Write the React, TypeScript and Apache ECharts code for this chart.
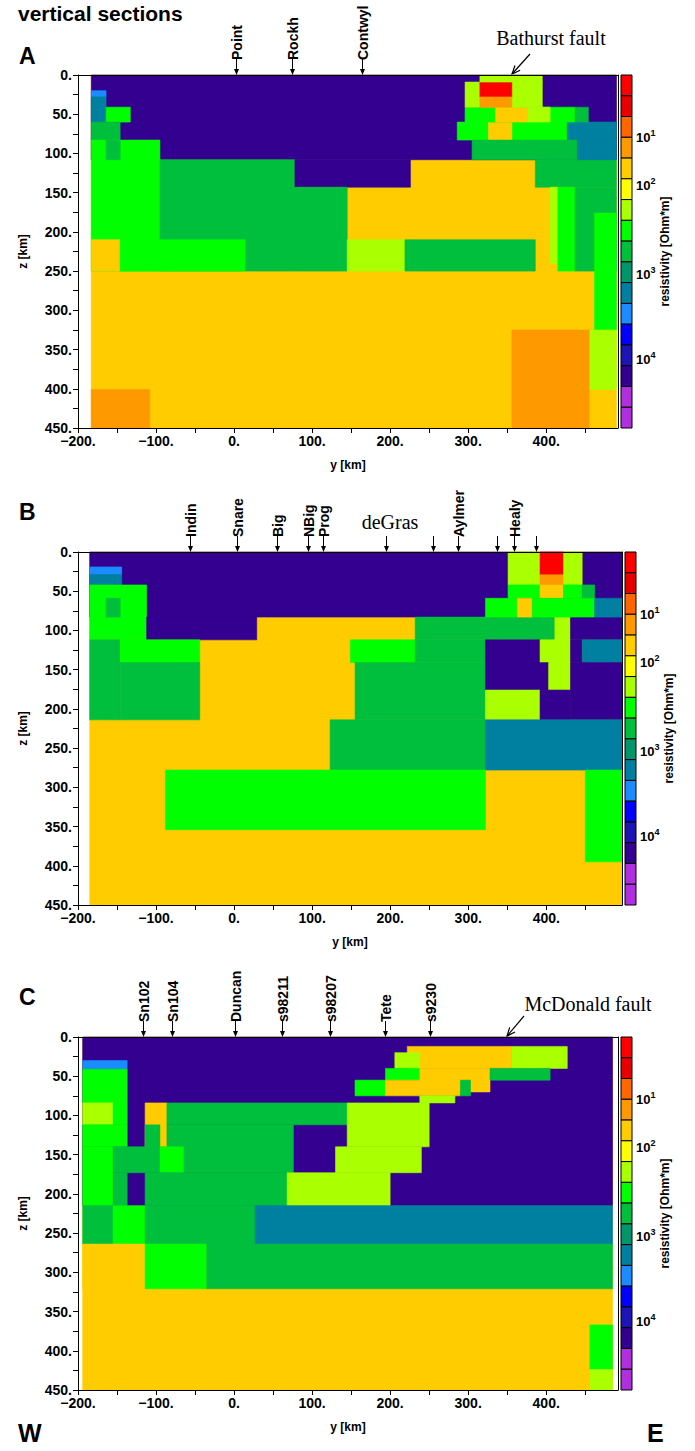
import React, { useEffect, useRef } from 'react';
import * as echarts from 'echarts';

// colour classes of the resistivity scale, top (low) to bottom (high)
const PALETTE = ['#ff0000', '#e80000', '#ff6600', '#ff9900', '#ffcc00', '#ffff00', '#aaff00', '#00ff00', '#00bf3c', '#00966a', '#0080a0', '#1a8cff', '#0000ff', '#1c14b4', '#330090', '#b030e0', '#b030e0'];
const R = 1, O = 4, Y = 5, L = 7, G = 8, M = 9, T = 11, B = 12, I = 15;

// blocks: [yFrom km, yTo km, zFrom km, zTo km, colour class]; later blocks overlay earlier ones
const sectionA = [
  [-183, 490, 0, 450, Y], [-183, 490, 0, 108, I],
  [-183, -164, 20, 28, B], [-183, -164, 28, 60, T], [-164, -133, 41, 60, G], [-183, -146, 60, 83, M],
  [-183, -95, 83, 250, G], [-164, -146, 83, 108, M], [-183, -146, 210, 250, Y],
  [-95, 78, 108, 250, M], [-146, 14, 210, 250, G],
  [78, 226, 108, 143, I], [78, 145, 143, 250, M], [145, 219, 210, 250, L], [219, 386, 210, 250, M],
  [386, 490, 108, 143, M], [405, 415, 143, 240, L], [415, 437, 143, 250, G], [437, 490, 143, 250, M],
  [462, 490, 176, 325, G], [455, 490, 325, 401, L], [356, 455, 325, 450, O], [-183, -108, 401, 450, O],
  [286, 427, 60, 83, G], [326, 356, 60, 83, Y], [427, 490, 60, 83, T],
  [305, 440, 83, 108, M], [440, 490, 83, 108, T],
  [296, 437, 41, 60, G], [335, 376, 41, 60, Y], [376, 405, 41, 60, L], [437, 454, 41, 60, M],
  [296, 395, 9, 41, L], [315, 356, 9, 28, R], [315, 356, 28, 41, O], [315, 395, 0, 9, L],
];
const sectionB = [
  [-185, 497, 0, 450, Y], [-185, 497, 0, 83, I],
  [-185, -144, 19, 29, B], [-185, -144, 29, 42, T], [-185, -112, 42, 112, G], [-164, -146, 59, 83, M],
  [-112, 29, 83, 112, I], [232, 411, 83, 112, M], [411, 431, 83, 112, L], [431, 497, 83, 112, I],
  [-185, -146, 112, 214, M], [-146, -44, 112, 141, G], [-146, -44, 141, 214, M],
  [149, 232, 112, 141, G], [155, 322, 141, 214, M], [232, 322, 112, 141, M],
  [322, 392, 112, 176, I], [392, 431, 112, 141, L], [431, 446, 112, 141, I], [446, 497, 112, 141, T],
  [392, 403, 141, 176, I], [403, 431, 141, 176, L], [431, 497, 141, 214, I],
  [322, 392, 176, 214, L], [392, 431, 176, 214, I],
  [123, 322, 214, 278, M], [322, 497, 214, 278, T],
  [-88, 322, 278, 354, G], [450, 497, 278, 395, G],
  [351, 392, 0, 42, L], [392, 422, 0, 29, R], [392, 422, 29, 42, O], [422, 446, 0, 42, L],
  [351, 392, 42, 59, G], [392, 422, 42, 59, Y], [422, 446, 42, 59, G], [446, 462, 42, 59, M],
  [322, 363, 59, 83, G], [363, 382, 59, 83, Y], [382, 462, 59, 83, G], [462, 497, 59, 83, T],
];
const sectionC = [
  [-194, 485, 0, 450, Y], [-194, 485, 0, 215, I],
  [-194, -137, 30, 41, B], [-194, -137, 41, 84, G], [-194, -155, 84, 112, L], [-155, -137, 84, 112, G],
  [-114, -86, 84, 140, Y], [-86, 145, 84, 112, M], [-114, -95, 112, 140, M], [-86, 76, 112, 173, M],
  [-194, -137, 112, 140, G], [-194, -155, 140, 215, G], [-155, -95, 140, 173, M], [-95, -65, 140, 173, G],
  [-155, -137, 173, 215, M], [-114, 68, 173, 215, M],
  [145, 250, 84, 140, L], [130, 240, 140, 173, L], [68, 200, 173, 215, L],
  [-194, -155, 215, 264, M], [-155, -114, 215, 264, G], [-114, 27, 215, 264, M], [27, 485, 215, 264, T],
  [-194, -114, 264, 321, Y], [-114, -35, 264, 321, G], [-35, 485, 264, 321, M],
  [456, 485, 367, 424, G], [456, 485, 424, 450, L],
  [222, 356, 12, 40, Y], [356, 427, 12, 40, L], [206, 238, 20, 40, L],
  [194, 238, 40, 55, G], [238, 328, 40, 70, Y], [328, 405, 40, 55, M],
  [155, 194, 55, 75, G], [194, 290, 55, 75, Y], [290, 303, 55, 75, M], [238, 283, 75, 84, L],
];

const stationsA = [2, 74, 164];
const stationNamesA = ['Point', 'Rockh', 'Contwyl'];
const stationsB = [-56, 4, 55, 95, 114, 195, 255, 287, 337, 358, 387];
const stationNamesB = ['Indin', 'Snare', 'Big', 'NBig', 'Prog', '', '', 'Aylmer', '', 'Healy', ''];
const stationsC = [-117, -79, 1, 62, 123, 194, 251];
const stationNamesC = ['Sn102', 'Sn104', 'Duncan', 's98211', 's98207', 'Tete', 's9230'];

const xLabelVals = [-200, -100, 0, 100, 200, 300, 400];
const xTickVals = [-200, -150, -100, -50, 0, 50, 100, 150, 200, 250, 300, 350, 400, 450];
const zLabelVals = [0, 50, 100, 150, 200, 250, 300, 350, 400, 450];
const zTickVals = [0, 25, 50, 75, 100, 125, 150, 175, 200, 225, 250, 275, 300, 325, 350, 375, 400, 425, 450];
const cbLabelPos = [3, 5.3, 9.6, 13.7];
const cbLabelExp = ['1', '2', '3', '4'];

const SANS = '"Liberation Sans", Arial, sans-serif';
const SERIF = '"Liberation Serif", "Times New Roman", serif';

export default function App() {
  const ref = useRef<HTMLDivElement>(null);
  useEffect(() => {
    const chart = echarts.init(ref.current!, null, { renderer: 'svg' });
    const tops = [75, 552, 1037];
    const rights = [77, 73, 77];
    const xMax = [492, 497, 492];
    const cbLeft = [621, 625, 621];
    const sections = [sectionA, sectionB, sectionC];
    const stations = [[stationsA, stationNamesA], [stationsB, stationNamesB], [stationsC, stationNamesC]];

    const grid: any[] = [], xAxis: any[] = [], yAxis: any[] = [], series: any[] = [];
    const labelStyle = { fontFamily: SANS, fontWeight: 'bold', fontSize: 14, color: '#000' };
    for (let p = 0; p < 3; p++) {
      grid.push({ left: 78, right: rights[p], top: tops[p], height: 353 });
    }
    for (let p = 0; p < 3; p++) {
      grid.push({ left: cbLeft[p], width: 11, top: tops[p], height: 353 });
    }
    // main axes
    for (let p = 0; p < 3; p++) {
      xAxis.push({
        type: 'value', gridIndex: p, min: -200, max: xMax[p], z: 10,
        axisLine: { show: true, onZero: false, lineStyle: { color: '#000', width: 1 } },
        axisTick: { show: true, customValues: xTickVals, length: 5, lineStyle: { color: '#000' } },
        axisLabel: { ...labelStyle, customValues: xLabelVals, margin: 6, formatter: (v: number) => (v < 0 ? '\u2212' + -v : v) + '.' },
        splitLine: { show: false },
        name: 'y [km]', nameLocation: 'middle', nameGap: 31,
        nameTextStyle: { fontFamily: SANS, fontWeight: 'bold', fontSize: 12, color: '#000' },
      });
      yAxis.push({
        type: 'value', gridIndex: p, min: 0, max: 450, inverse: true, z: 10,
        axisLine: { show: true, onZero: false, lineStyle: { color: '#000', width: 1 } },
        axisTick: { show: true, customValues: zTickVals, length: 5, lineStyle: { color: '#000' } },
        axisLabel: { ...labelStyle, customValues: zLabelVals, margin: 6, formatter: (v: number) => v + '.' },
        splitLine: { show: false },
        name: 'z [km]', nameLocation: 'middle', nameGap: 49, nameRotate: 90,
        nameTextStyle: { fontFamily: SANS, fontWeight: 'bold', fontSize: 12, color: '#000' },
      });
    }
    // colourbar axes
    for (let p = 0; p < 3; p++) {
      xAxis.push({ type: 'value', gridIndex: 3 + p, min: 0, max: 1, show: false });
      yAxis.push({
        type: 'value', gridIndex: 3 + p, min: 0, max: 17, inverse: true, position: 'right',
        axisLine: { show: false }, axisTick: { show: false }, splitLine: { show: false },
        axisLabel: {
          customValues: cbLabelPos, margin: 4,
          formatter: (v: number) => {
            let k = 0;
            cbLabelPos.forEach((c, i) => { if (Math.abs(c - v) < Math.abs(cbLabelPos[k] - v)) k = i; });
            return '{b|10}{s|' + cbLabelExp[k] + '}';
          },
          rich: {
            b: { fontFamily: SANS, fontWeight: 'bold', fontSize: 13, color: '#000', lineHeight: 18 },
            s: { fontFamily: SANS, fontWeight: 'bold', fontSize: 9, color: '#000', verticalAlign: 'top', lineHeight: 10 },
          },
        },
        name: 'resistivity [Ohm*m]', nameLocation: 'middle', nameGap: 27, nameRotate: 90,
        nameTextStyle: { fontFamily: SANS, fontWeight: 'bold', fontSize: 12, color: '#000' },
      });
    }
    // frame axes (top and right borders)
    for (let p = 0; p < 3; p++) {
      xAxis.push({
        type: 'value', gridIndex: p, min: -200, max: xMax[p], position: 'top', z: 10,
        axisLine: { show: true, onZero: false, lineStyle: { color: '#000', width: 1 } },
        axisTick: { show: false }, axisLabel: { show: false }, splitLine: { show: false },
      });
      yAxis.push({
        type: 'value', gridIndex: p, min: 0, max: 450, inverse: true, position: 'right', z: 10,
        axisLine: { show: true, onZero: false, lineStyle: { color: '#000', width: 1 } },
        axisTick: { show: false }, axisLabel: { show: false }, splitLine: { show: false },
      });
    }

    for (let p = 0; p < 3; p++) {
      series.push({
        type: 'custom', xAxisIndex: p, yAxisIndex: p, data: sections[p], silent: true,
        encode: { x: [0, 1], y: [2, 3] },
        renderItem: (params: any, api: any) => {
          const a = api.coord([api.value(0), api.value(2)]);
          const b = api.coord([api.value(1), api.value(3)]);
          const cs = params.coordSys;
          const shape = echarts.graphic.clipRectByRect(
            { x: Math.min(a[0], b[0]), y: Math.min(a[1], b[1]), width: Math.abs(b[0] - a[0]), height: Math.abs(b[1] - a[1]) },
            { x: cs.x, y: cs.y, width: cs.width, height: cs.height });
          if (!shape) return null;
          const c = PALETTE[api.value(4) - 1];
          return { type: 'rect', shape, style: { fill: c, stroke: c, lineWidth: 0.6 } };
        },
      });
      const [kms, names] = stations[p] as [number[], string[]];
      series.push({
        type: 'custom', xAxisIndex: p, yAxisIndex: p, data: kms.map((k) => [k, 0]), silent: true, clip: false, z: 12,
        renderItem: (params: any, api: any) => {
          const x = Math.round(api.coord([api.value(0), 0])[0]) + 0.5;
          const top = params.coordSys.y;
          const name = names[params.dataIndex];
          const children: any[] = [
            { type: 'line', shape: { x1: x, y1: top - 16, x2: x, y2: top - 4 }, style: { stroke: '#000', lineWidth: 1 } },
            { type: 'polygon', shape: { points: [[x - 2.5, top - 6], [x + 2.5, top - 6], [x, top]] }, style: { fill: '#000' } },
          ];
          if (name) {
            children.push({ type: 'text', x, y: top - 15, rotation: Math.PI / 2, style: { text: name, align: 'left', verticalAlign: 'middle', font: 'bold 14px ' + SANS, fill: '#000' } });
          }
          return { type: 'group', children };
        },
      });
      series.push({
        type: 'custom', xAxisIndex: 3 + p, yAxisIndex: 3 + p, data: PALETTE.map((_, i) => [0, i]), silent: true,
        renderItem: (params: any, api: any) => {
          const i = api.value(1);
          const a = api.coord([0, i]);
          const b = api.coord([1, i + 1]);
          return { type: 'rect', shape: { x: a[0], y: a[1], width: b[0] - a[0], height: b[1] - a[1] }, style: { fill: PALETTE[i], stroke: '#000', lineWidth: 1 } };
        },
      });
    }

    const arrow = (x1: number, y1: number, x2: number, y2: number) => {
      const ang = Math.atan2(y2 - y1, x2 - x1);
      const h = 9, s = 0.4;
      return [
        { type: 'line', shape: { x1, y1, x2, y2 }, style: { stroke: '#000', lineWidth: 1.2 } },
        { type: 'polyline', shape: { points: [[x2 - h * Math.cos(ang - s), y2 - h * Math.sin(ang - s)], [x2, y2], [x2 - h * Math.cos(ang + s), y2 - h * Math.sin(ang + s)]] }, style: { stroke: '#000', lineWidth: 1.2, fill: 'none' } },
      ];
    };
    const title = (text: string, left: number, top: number, size: number, weight = 'bold') => ({
      type: 'text', left, top, style: { text, font: `${weight} ${size}px ${SANS}`, fill: '#000' },
    });
    const serif = (text: string, x: number, y: number) => ({
      type: 'text', x, y, style: { text, font: `20px ${SERIF}`, fill: '#000', align: 'center', verticalAlign: 'middle' },
    });

    chart.setOption({
      animation: false,
      backgroundColor: '#fff',
      grid, xAxis, yAxis, series,
      graphic: [
        title('vertical sections', 18, 3, 21, 'bold'),
        title('A', 19, 44, 23), title('B', 19, 500, 23), title('C', 19, 985, 23),
        title('W', 18, 1420, 25), title('E', 647, 1420, 25),
        serif('Bathurst fault', 551, 38), ...arrow(530, 54, 512, 74),
        serif('deGras', 390, 522),
        serif('McDonald fault', 588, 1004), ...arrow(524, 1016, 507, 1036),
      ],
    });
    return () => chart.dispose();
  }, []);
  return <div ref={ref} style={{ position: 'absolute', left: 0, top: 0, width: 695, height: 1451 }} />;
}
